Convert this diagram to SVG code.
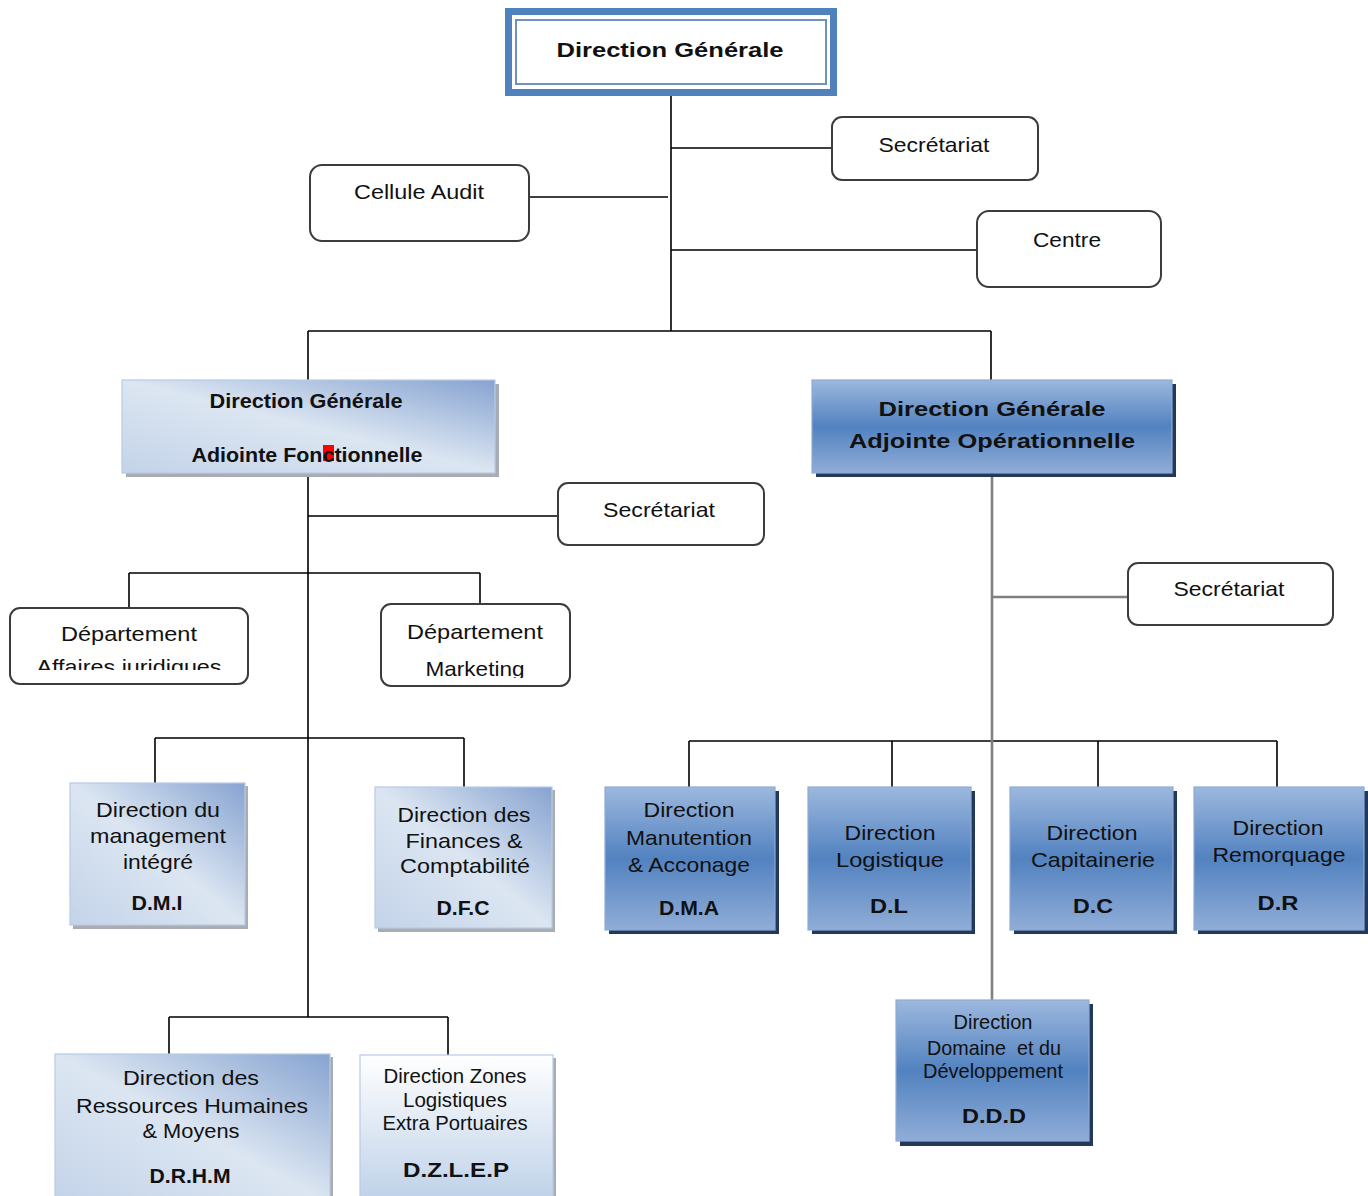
<svg xmlns="http://www.w3.org/2000/svg" width="1368" height="1196" viewBox="0 0 1368 1196">
<defs>
<style>
.t{font-family:"Liberation Sans",Arial,sans-serif;font-size:21px;fill:#111;text-anchor:middle}
.b{font-weight:bold}
.ln{stroke:#000;stroke-width:1.6;fill:none}
.gl{stroke:#808080;stroke-width:2.6;fill:none}
.rb{fill:#fff;stroke:#3c3c3c;stroke-width:2}
.lb{fill:url(#lg);stroke:#b7cbe4;stroke-width:1.2}
.db{fill:url(#dg);stroke:#8eabd6;stroke-width:1.2}
.ls{fill:#a9adb3}
.ds{fill:#22395a}
</style>
<linearGradient id="lg" x1="1" y1="0" x2="0" y2="1">
<stop offset="0" stop-color="#86a3d0"/>
<stop offset="0.5" stop-color="#dce6f2"/>
<stop offset="1" stop-color="#c3d3e9"/>
</linearGradient>
<linearGradient id="zg" x1="0" y1="0" x2="0" y2="1">
<stop offset="0" stop-color="#ffffff"/>
<stop offset="1" stop-color="#bcd0e8"/>
</linearGradient>
<linearGradient id="dg" x1="0" y1="0" x2="0" y2="1">
<stop offset="0" stop-color="#9cb8de"/>
<stop offset="0.5" stop-color="#5282c0"/>
<stop offset="1" stop-color="#90add7"/>
</linearGradient>
<clipPath id="c1"><rect x="10" y="600" width="240" height="70"/></clipPath>
<clipPath id="c2"><rect x="380" y="600" width="192" height="78"/></clipPath>
</defs>
<rect width="1368" height="1196" fill="#fff"/>

<g id="connectors">
<path class="ln" d="M671 96V331M671 148H832M529 197H668M671 250H977M308 331H991M308 331V380M991 331V380"/>
<path class="ln" d="M308 477V1017M308 516H558M129 573H480M129 573V608M480 573V604M155 738H464M155 738V783M464 738V787M169 1017H448M169 1017V1054M448 1017V1055"/>
<path class="ln" d="M689 741H1277M689 741V787M892 741V787M1098 741V787M1277 741V787"/>
<path class="gl" d="M992 477V1000M992 597H1128"/>
</g>

<g id="dg-main">
<rect x="505" y="8" width="332" height="88" fill="#4f81bd"/>
<rect x="512" y="15" width="318" height="74" fill="#fff"/>
<rect x="516" y="20" width="310" height="64" fill="none" stroke="#6d92c6" stroke-width="2"/>
<text class="t b" x="670" y="57" font-size="24" textLength="227" lengthAdjust="spacingAndGlyphs">Direction Générale</text>
</g>

<g id="secretariat-top">
<rect class="rb" x="832" y="117" width="206" height="63" rx="10"/>
<text class="t" x="934" y="152" textLength="111" lengthAdjust="spacingAndGlyphs">Secrétariat</text>
</g>

<g id="cellule-audit">
<rect class="rb" x="310" y="165" width="219" height="76" rx="12"/>
<text class="t" x="419" y="199" textLength="130" lengthAdjust="spacingAndGlyphs">Cellule Audit</text>
</g>

<g id="centre">
<rect class="rb" x="977" y="211" width="184" height="76" rx="12"/>
<text class="t" x="1067" y="247" textLength="68" lengthAdjust="spacingAndGlyphs">Centre</text>
</g>

<g id="dga-fonctionnelle">
<rect class="ls" x="126" y="384" width="373" height="93"/>
<rect class="lb" x="122" y="380" width="373" height="93"/>
<rect x="323" y="445" width="11" height="16" fill="#ff0000"/>
<text class="t b" x="306" y="408" font-size="20" textLength="193" lengthAdjust="spacingAndGlyphs">Direction Générale</text>
<text class="t b" x="307" y="462" font-size="20" textLength="231" lengthAdjust="spacingAndGlyphs">Adiointe Fonctionnelle</text>
</g>

<g id="dga-operationnelle">
<rect class="ds" x="816" y="384" width="360" height="93"/>
<rect class="db" x="812" y="380" width="360" height="93"/>
<text class="t b" x="992" y="416" font-size="25" textLength="227" lengthAdjust="spacingAndGlyphs">Direction Générale</text>
<text class="t b" x="992" y="448" font-size="25" textLength="286" lengthAdjust="spacingAndGlyphs">Adjointe Opérationnelle</text>
</g>

<g id="secretariat-dgaf">
<rect class="rb" x="558" y="483" width="206" height="62" rx="10"/>
<text class="t" x="659" y="517" textLength="112" lengthAdjust="spacingAndGlyphs">Secrétariat</text>
</g>

<g id="secretariat-dgao">
<rect class="rb" x="1128" y="563" width="205" height="62" rx="10"/>
<text class="t" x="1229" y="596" textLength="111" lengthAdjust="spacingAndGlyphs">Secrétariat</text>
</g>

<g id="dept-juridique">
<rect class="rb" x="10" y="608" width="238" height="76" rx="10"/>
<text class="t" x="129" y="641" font-size="22" textLength="136" lengthAdjust="spacingAndGlyphs">Département</text>
<text class="t" x="129" y="674" font-size="22" textLength="185" lengthAdjust="spacingAndGlyphs" clip-path="url(#c1)">Affaires juridiques</text>
</g>

<g id="dept-marketing">
<rect class="rb" x="381" y="604" width="189" height="82" rx="10"/>
<text class="t" x="475" y="639" font-size="22" textLength="136" lengthAdjust="spacingAndGlyphs">Département</text>
<text class="t" x="475" y="676" font-size="22" textLength="99" lengthAdjust="spacingAndGlyphs" clip-path="url(#c2)">Marketing</text>
</g>

<g id="dmi">
<rect class="ls" x="73" y="786" width="175" height="143"/>
<rect class="lb" x="70" y="783" width="175" height="142"/>
<text class="t" x="158" y="817" textLength="124" lengthAdjust="spacingAndGlyphs">Direction du</text>
<text class="t" x="158" y="843" textLength="136" lengthAdjust="spacingAndGlyphs">management</text>
<text class="t" x="158" y="869" textLength="70" lengthAdjust="spacingAndGlyphs">intégré</text>
<text class="t b" x="157" y="910" font-size="20" textLength="51" lengthAdjust="spacingAndGlyphs">D.M.I</text>
</g>

<g id="dfc">
<rect class="ls" x="378" y="790" width="177" height="142"/>
<rect class="lb" x="375" y="787" width="177" height="141"/>
<text class="t" x="464" y="822" textLength="133" lengthAdjust="spacingAndGlyphs">Direction des</text>
<text class="t" x="464" y="848" textLength="117" lengthAdjust="spacingAndGlyphs">Finances &amp;</text>
<text class="t" x="465" y="873" textLength="130" lengthAdjust="spacingAndGlyphs">Comptabilité</text>
<text class="t b" x="463" y="915" font-size="21" textLength="53" lengthAdjust="spacingAndGlyphs">D.F.C</text>
</g>

<g id="drhm">
<rect class="ls" x="58" y="1057" width="275" height="150"/>
<rect class="lb" x="55" y="1054" width="275" height="150"/>
<text class="t" x="191" y="1085" textLength="136" lengthAdjust="spacingAndGlyphs">Direction des</text>
<text class="t" x="192" y="1113" textLength="232" lengthAdjust="spacingAndGlyphs">Ressources Humaines</text>
<text class="t" x="191" y="1138" textLength="97" lengthAdjust="spacingAndGlyphs">&amp; Moyens</text>
<text class="t b" x="190" y="1183" font-size="22" textLength="81" lengthAdjust="spacingAndGlyphs">D.R.H.M</text>
</g>

<g id="dzlep">
<rect class="ls" x="363" y="1058" width="193" height="150"/>
<rect x="360" y="1055" width="193" height="150" fill="url(#zg)" stroke="#b7cbe4" stroke-width="1.2"/>
<text class="t" x="455" y="1083" font-size="20" textLength="143" lengthAdjust="spacingAndGlyphs">Direction Zones</text>
<text class="t" x="455" y="1107" font-size="20" textLength="104" lengthAdjust="spacingAndGlyphs">Logistiques</text>
<text class="t" x="455" y="1130" font-size="20" textLength="145" lengthAdjust="spacingAndGlyphs">Extra Portuaires</text>
<text class="t b" x="456" y="1177" font-size="24" textLength="106" lengthAdjust="spacingAndGlyphs">D.Z.L.E.P</text>
</g>

<g id="dma">
<rect class="ds" x="609" y="791" width="170" height="143"/>
<rect class="db" x="605" y="787" width="170" height="143"/>
<text class="t" x="689" y="817" textLength="91" lengthAdjust="spacingAndGlyphs">Direction</text>
<text class="t" x="689" y="845" textLength="126" lengthAdjust="spacingAndGlyphs">Manutention</text>
<text class="t" x="689" y="872" textLength="122" lengthAdjust="spacingAndGlyphs">&amp; Acconage</text>
<text class="t b" x="689" y="915" textLength="60" lengthAdjust="spacingAndGlyphs">D.M.A</text>
</g>

<g id="dl">
<rect class="ds" x="812" y="791" width="163" height="143"/>
<rect class="db" x="808" y="787" width="163" height="143"/>
<text class="t" x="890" y="840" textLength="91" lengthAdjust="spacingAndGlyphs">Direction</text>
<text class="t" x="890" y="867" textLength="108" lengthAdjust="spacingAndGlyphs">Logistique</text>
<text class="t b" x="889" y="913" font-size="25" textLength="38" lengthAdjust="spacingAndGlyphs">D.L</text>
</g>

<g id="dc">
<rect class="ds" x="1014" y="791" width="163" height="143"/>
<rect class="db" x="1010" y="787" width="163" height="143"/>
<text class="t" x="1092" y="840" textLength="91" lengthAdjust="spacingAndGlyphs">Direction</text>
<text class="t" x="1093" y="867" textLength="124" lengthAdjust="spacingAndGlyphs">Capitainerie</text>
<text class="t b" x="1093" y="913" font-size="25" textLength="40" lengthAdjust="spacingAndGlyphs">D.C</text>
</g>

<g id="dr">
<rect class="ds" x="1198" y="791" width="170" height="143"/>
<rect class="db" x="1194" y="787" width="170" height="143"/>
<text class="t" x="1278" y="835" textLength="91" lengthAdjust="spacingAndGlyphs">Direction</text>
<text class="t" x="1279" y="862" textLength="133" lengthAdjust="spacingAndGlyphs">Remorquage</text>
<text class="t b" x="1278" y="910" font-size="25" textLength="41" lengthAdjust="spacingAndGlyphs">D.R</text>
</g>

<g id="ddd">
<rect class="ds" x="900" y="1004" width="193" height="142"/>
<rect class="db" x="896" y="1000" width="193" height="141"/>
<text class="t" x="993" y="1029" font-size="19" textLength="79" lengthAdjust="spacingAndGlyphs">Direction</text>
<text class="t" x="994" y="1055" font-size="19" textLength="134" lengthAdjust="spacingAndGlyphs" xml:space="preserve">Domaine  et du</text>
<text class="t" x="993" y="1078" font-size="19" textLength="140" lengthAdjust="spacingAndGlyphs">Développement</text>
<text class="t b" x="994" y="1123" font-size="24" textLength="64" lengthAdjust="spacingAndGlyphs">D.D.D</text>
</g>
</svg>
